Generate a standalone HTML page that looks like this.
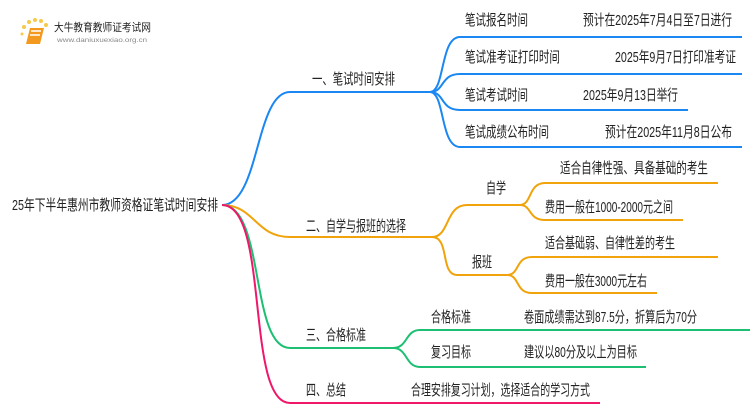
<!DOCTYPE html>
<html><head><meta charset="utf-8"><style>
html,body{margin:0;padding:0;background:#fff;}
svg{display:block;}
text{font-family:"Liberation Sans","Noto Sans CJK SC",sans-serif;font-size:15px;fill:#222;}
</style></head><body>
<svg width="750" height="410" viewBox="0 0 750 410" xmlns="http://www.w3.org/2000/svg">
<g>
<circle cx="24" cy="27" r="2" fill="#f7c948"/><circle cx="29" cy="22" r="2" fill="#f7c948"/><circle cx="35" cy="20" r="2" fill="#f7c948"/><circle cx="41" cy="21" r="2" fill="#f7c948"/><circle cx="46" cy="25" r="2" fill="#f7c948"/><circle cx="22" cy="34" r="1.5" fill="#f7c948"/>
<path d="M30 28 L44 28 L40 44 L26 44 Z" fill="#f39a1e"/><path d="M31 31 L41 31 M30 35 L40 35" stroke="#fff" stroke-width="1.5"/>
<text x="54" y="31" style="font-size:11px" textLength="97" lengthAdjust="spacingAndGlyphs">大牛教育教师证考试网</text>
<text x="57" y="42" style="font-size:6px;fill:#888" textLength="90" lengthAdjust="spacingAndGlyphs">www.daniuxuexiao.org.cn</text>
</g>
<g fill="none" stroke-width="2">
<path d="M222 205 C260 205,255 92,290 92 L430 92" stroke="#1a87f2"/>
<path d="M430 92 C445 92,440 37,460 37 L742 37" stroke="#1a87f2"/>
<path d="M430 92 C445 92,440 74,460 74 L742 74" stroke="#1a87f2"/>
<path d="M430 92 C445 92,440 110,460 110 L688 110" stroke="#1a87f2"/>
<path d="M430 92 C445 92,440 147,460 147 L742 147" stroke="#1a87f2"/>
<path d="M222 205 C255 205,255 237,290 237 L432 237" stroke="#f0a30a"/>
<path d="M432 237 C450 237,445 205,467 205 L520 205" stroke="#f0a30a"/>
<path d="M432 237 C450 237,440 275,457 275 L507 275" stroke="#f0a30a"/>
<path d="M520 205 C532 205,528 183,545 183 L718 183" stroke="#f0a30a"/>
<path d="M520 205 C532 205,528 220,545 220 L683 220" stroke="#f0a30a"/>
<path d="M507 275 C520 275,515 257,532 257 L718 257" stroke="#f0a30a"/>
<path d="M507 275 C520 275,515 293,532 293 L657 293" stroke="#f0a30a"/>
<path d="M222 205 C265 205,250 348,290 348 L393 348" stroke="#1dbf73"/>
<path d="M393 348 C408 348,405 330,420 330 L755 330" stroke="#1dbf73"/>
<path d="M393 348 C408 348,405 367,420 367 L646 367" stroke="#1dbf73"/>
<path d="M222 205 C270 205,245 403,290 403 L600 403" stroke="#f0166a"/>
</g>
<text x="12" y="210" textLength="206" lengthAdjust="spacingAndGlyphs">25年下半年惠州市教师资格证笔试时间安排</text>
<text x="312" y="84" textLength="83" lengthAdjust="spacingAndGlyphs">一、笔试时间安排</text>
<text x="465" y="25" textLength="63" lengthAdjust="spacingAndGlyphs">笔试报名时间</text>
<text x="583" y="25" textLength="149" lengthAdjust="spacingAndGlyphs">预计在2025年7月4日至7日进行</text>
<text x="465" y="62" textLength="95" lengthAdjust="spacingAndGlyphs">笔试准考证打印时间</text>
<text x="615" y="62" textLength="121" lengthAdjust="spacingAndGlyphs">2025年9月7日打印准考证</text>
<text x="465" y="100" textLength="63" lengthAdjust="spacingAndGlyphs">笔试考试时间</text>
<text x="583" y="100" textLength="95" lengthAdjust="spacingAndGlyphs">2025年9月13日举行</text>
<text x="465" y="137" textLength="84" lengthAdjust="spacingAndGlyphs">笔试成绩公布时间</text>
<text x="605" y="137" textLength="127" lengthAdjust="spacingAndGlyphs">预计在2025年11月8日公布</text>
<text x="560" y="173" textLength="148" lengthAdjust="spacingAndGlyphs">适合自律性强、具备基础的考生</text>
<text x="486" y="193" textLength="20" lengthAdjust="spacingAndGlyphs">自学</text>
<text x="545" y="212" textLength="128" lengthAdjust="spacingAndGlyphs">费用一般在1000-2000元之间</text>
<text x="306" y="231" textLength="100" lengthAdjust="spacingAndGlyphs">二、自学与报班的选择</text>
<text x="545" y="248" textLength="130" lengthAdjust="spacingAndGlyphs">适合基础弱、自律性差的考生</text>
<text x="472" y="267" textLength="20" lengthAdjust="spacingAndGlyphs">报班</text>
<text x="545" y="286" textLength="102" lengthAdjust="spacingAndGlyphs">费用一般在3000元左右</text>
<text x="431" y="322" textLength="40" lengthAdjust="spacingAndGlyphs">合格标准</text>
<text x="524" y="322" textLength="173" lengthAdjust="spacingAndGlyphs">卷面成绩需达到87.5分，折算后为70分</text>
<text x="306" y="340" textLength="60" lengthAdjust="spacingAndGlyphs">三、合格标准</text>
<text x="431" y="357" textLength="40" lengthAdjust="spacingAndGlyphs">复习目标</text>
<text x="524" y="357" textLength="113" lengthAdjust="spacingAndGlyphs">建议以80分及以上为目标</text>
<text x="306" y="395" textLength="40" lengthAdjust="spacingAndGlyphs">四、总结</text>
<text x="411" y="395" textLength="179" lengthAdjust="spacingAndGlyphs">合理安排复习计划，选择适合的学习方式</text>
</svg>
</body></html>
